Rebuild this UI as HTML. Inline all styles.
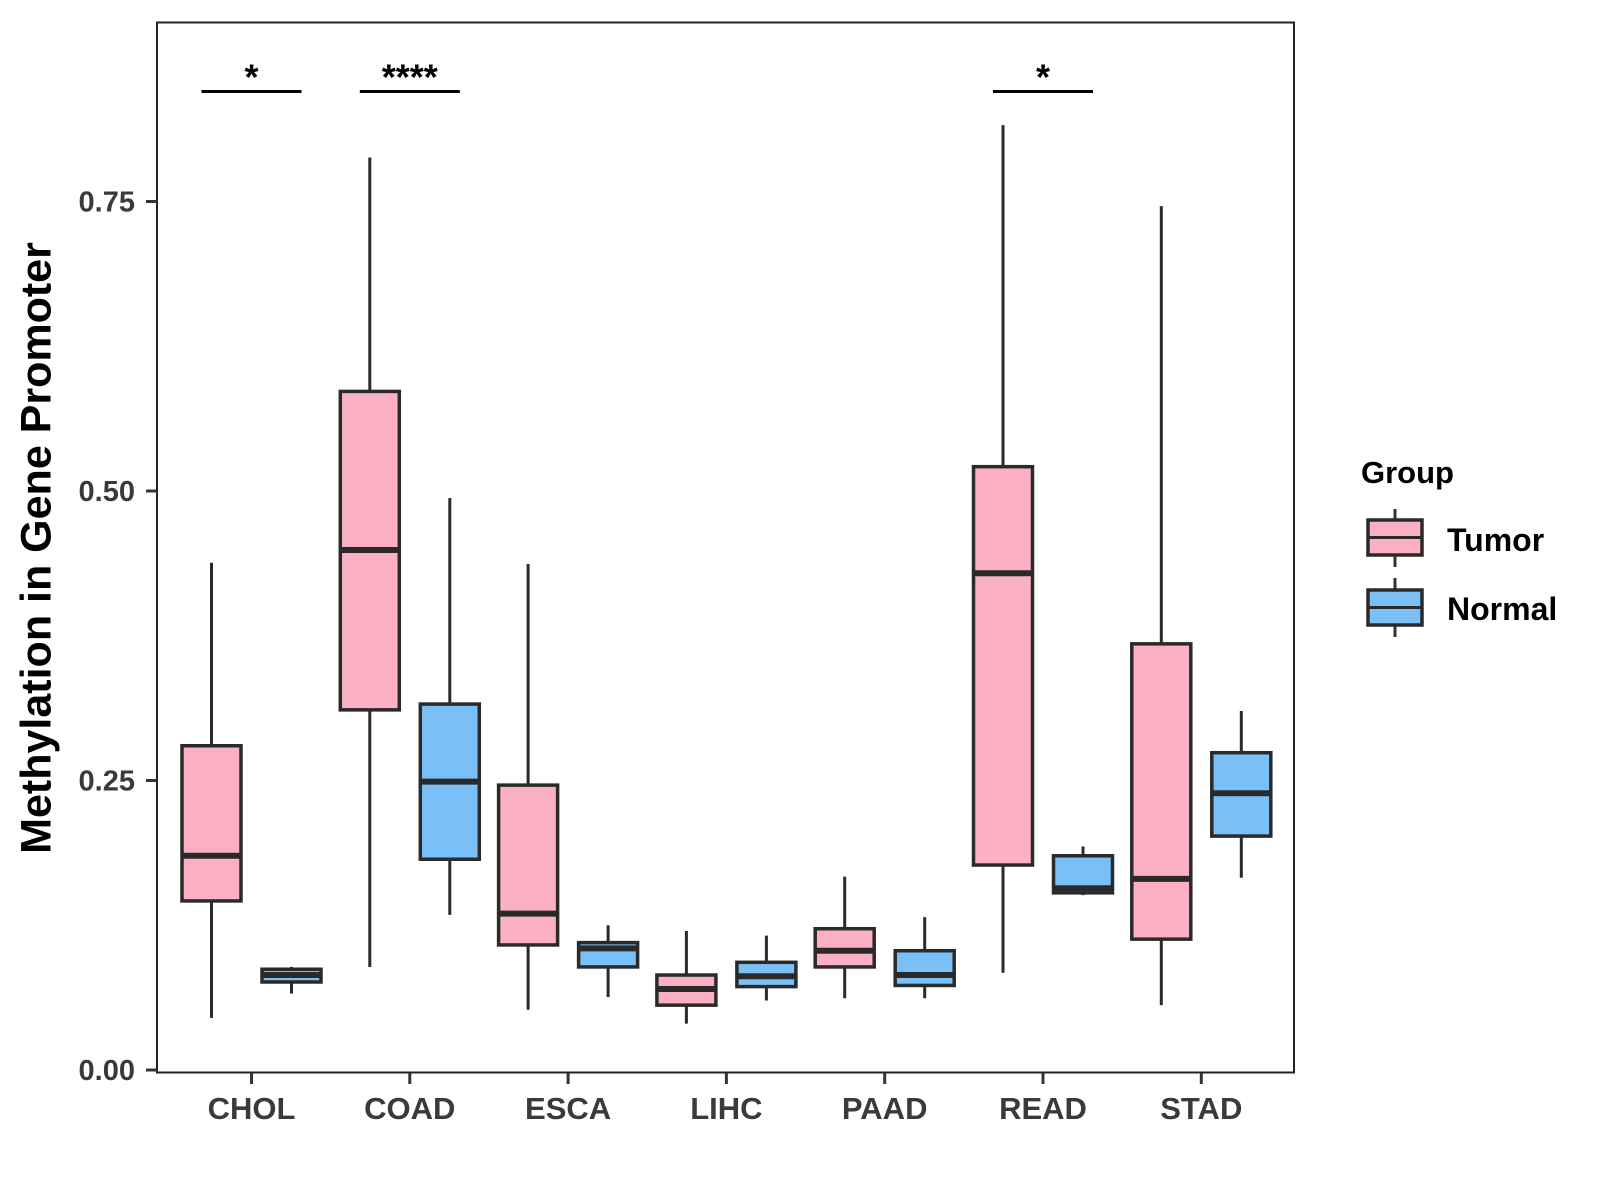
<!DOCTYPE html>
<html><head><meta charset="utf-8"><style>
html,body{margin:0;padding:0;background:#fff}
svg{display:block}
text{font-family:"Liberation Sans",Arial,sans-serif;font-weight:bold}
</style></head><body>
<svg id="chart" width="1600" height="1200" viewBox="0 0 1600 1200" xmlns="http://www.w3.org/2000/svg">
<rect x="0" y="0" width="1600" height="1200" fill="#fff"/>
<g id="marks"></g>
<rect x="157" y="22.5" width="1137" height="1050" fill="none" stroke="#222" stroke-width="2"/>
<g id="axes"></g>
<text x="39" y="548" font-size="43" fill="#000" text-anchor="middle" transform="rotate(-90 39 548)" dominant-baseline="middle">Methylation in Gene Promoter</text>
<g>
<text x="1361" y="483" font-size="31" fill="#000">Group</text>
<g>
<line x1="1395" y1="509" x2="1395" y2="567" stroke="#333" stroke-width="3"/>
<rect x="1368" y="520" width="54" height="35" fill="#FBB1C3" stroke="#2a2a2a" stroke-width="3.5"/>
<line x1="1368" y1="537.5" x2="1422" y2="537.5" stroke="#2a2a2a" stroke-width="3"/>
<text x="1447" y="551" font-size="32" fill="#000">Tumor</text></g>
<g>
<line x1="1395" y1="578" x2="1395" y2="637" stroke="#333" stroke-width="3"/>
<rect x="1368" y="590" width="54" height="35" fill="#78C0F7" stroke="#2a2a2a" stroke-width="3.5"/>
<line x1="1368" y1="607.5" x2="1422" y2="607.5" stroke="#2a2a2a" stroke-width="3"/>
<text x="1447" y="620" font-size="32" fill="#000">Normal</text></g>
</g>
</svg>
<script>
const categories=["CHOL","COAD","ESCA","LIHC","PAAD","READ","STAD"];
// [lower whisker, q1, median, q3, upper whisker]
const tumorStats=[[0.045,0.146,0.185,0.280,0.438],[0.089,0.311,0.449,0.586,0.788],[0.052,0.108,0.135,0.246,0.437],[0.040,0.056,0.070,0.082,0.120],[0.062,0.089,0.103,0.122,0.167],[0.084,0.177,0.429,0.521,0.816],[0.056,0.113,0.165,0.368,0.746]];
const normalStats=[[0.066,0.076,0.082,0.087,0.089],[0.134,0.182,0.249,0.316,0.494],[0.063,0.089,0.105,0.110,0.125],[0.060,0.072,0.081,0.093,0.116],[0.062,0.073,0.082,0.103,0.132],[0.151,0.153,0.157,0.185,0.193],[0.166,0.202,0.239,0.274,0.310]];
const yTicks=[0,0.25,0.5,0.75];
const yTickLabels=["0.00","0.25","0.50","0.75"];
const sigCats=["CHOL","COAD","READ"];
const sigLabels=["*","****","*"];
const sigLevel=0.845;

const NS="http://www.w3.org/2000/svg";
function yScale(v){return 1070-v*1158;}
function xScale(i){return 251.5+i*158.3;}
function mk(tag,attrs,parent){const e=document.createElementNS(NS,tag);for(const k in attrs)e.setAttribute(k,attrs[k]);parent.appendChild(e);return e;}
const marks=document.getElementById('marks');
const axes=document.getElementById('axes');
const BW=59;
function drawBox(cx,s,fill,name){
  const g=mk('g',{},marks);
  
  
  mk('line',{x1:cx,x2:cx,y1:yScale(s[0]),y2:yScale(s[4]),stroke:'#2a2a2a','stroke-width':3},g);
  mk('rect',{x:cx-BW/2,y:yScale(s[3]),width:BW,height:yScale(s[1])-yScale(s[3]),fill:fill,stroke:'#2a2a2a','stroke-width':3.5},g);
  mk('line',{x1:cx-BW/2,x2:cx+BW/2,y1:yScale(s[2]),y2:yScale(s[2]),stroke:'#2a2a2a','stroke-width':6},g);
}
categories.forEach((c,i)=>{
  drawBox(xScale(i)-40,tumorStats[i],'#FBB1C3','box-tumor-'+c.toLowerCase());
  drawBox(xScale(i)+40,normalStats[i],'#78C0F7','box-normal-'+c.toLowerCase());
  mk('line',{x1:xScale(i),x2:xScale(i),y1:1073,y2:1084,stroke:'#333','stroke-width':3},axes);
  const t=mk('text',{x:xScale(i),y:1119,'font-size':31,fill:'#3a3a3a','text-anchor':'middle'},axes);
  t.textContent=c;
  
  
});
yTicks.forEach((v,i)=>{
  mk('line',{x1:146,x2:157,y1:yScale(v),y2:yScale(v),stroke:'#333','stroke-width':3},axes);
  const t=mk('text',{x:135,y:yScale(v)+10,'font-size':29,fill:'#3a3a3a','text-anchor':'end'},axes);
  t.textContent=yTickLabels[i];
  
  
});
sigCats.forEach((c,j)=>{
  const i=categories.indexOf(c);
  const g=mk('g',{},marks);
  
  
  mk('line',{x1:xScale(i)-50,x2:xScale(i)+50,y1:yScale(sigLevel),y2:yScale(sigLevel),stroke:'#000','stroke-width':3},g);
  const t=mk('text',{x:xScale(i),y:yScale(sigLevel)-2,'font-size':36,fill:'#000','text-anchor':'middle'},g);
  t.textContent=sigLabels[j];
});
</script>
</body></html>
